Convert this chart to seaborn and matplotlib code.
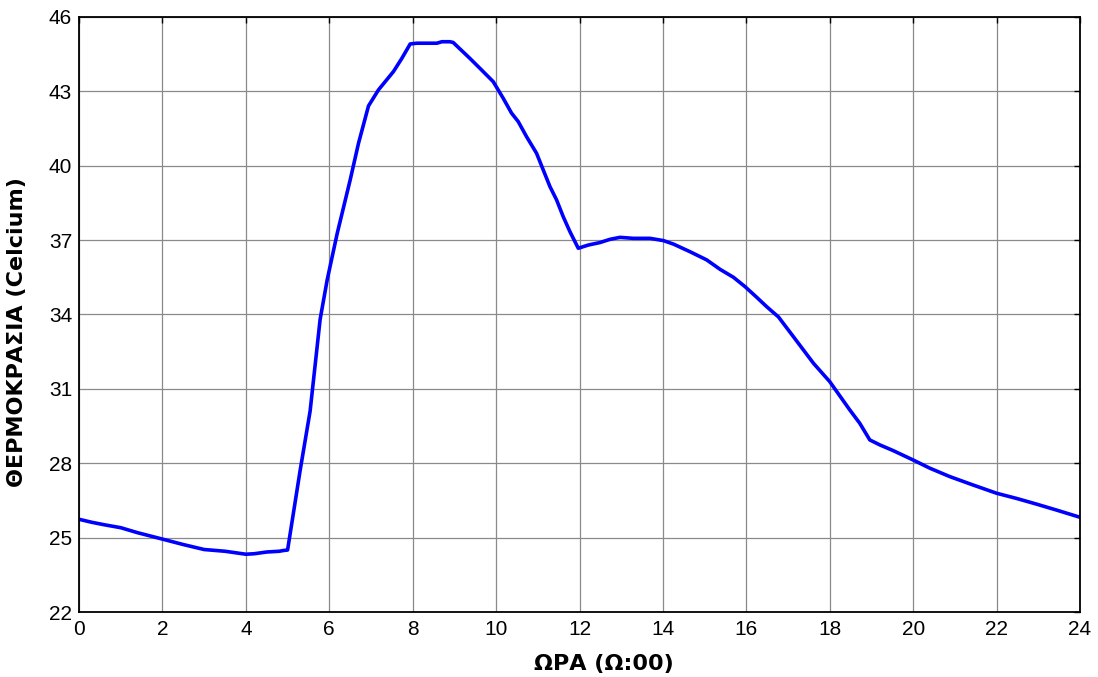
import numpy as np
import pandas as pd
import matplotlib
matplotlib.use("Agg")
import matplotlib.pyplot as plt
import seaborn as sns

# hour of day (0..24) and temperature
hours = [0.0, 0.3, 0.6, 1.0, 1.4, 2.0, 2.5, 3.0, 3.5, 4.0, 4.2, 4.5, 4.8, 4.9, 5.0,
         5.3, 5.54, 5.78, 5.95, 6.19, 6.5, 6.7, 6.94, 7.18, 7.54, 7.74, 7.94, 8.1,
         8.58, 8.7, 8.89, 8.97, 9.37, 9.61, 9.93, 10.17, 10.37, 10.53, 10.73, 10.97,
         11.29, 11.45, 11.61, 11.77, 11.97, 12.21, 12.49, 12.73, 12.97, 13.29, 13.69,
         14.01, 14.25, 14.65, 15.05, 15.37, 15.69, 15.97, 16.25, 16.49, 16.77, 17.13,
         17.61, 18.0, 18.48, 18.72, 18.96, 19.2, 19.52, 20.0, 20.4, 20.88, 21.44,
         22.0, 22.48, 22.96, 23.44, 24.0]
temps = [25.74, 25.62, 25.52, 25.4, 25.2, 24.94, 24.72, 24.52, 24.45, 24.33, 24.35,
         24.42, 24.45, 24.48, 24.5,
         27.7, 30.1, 33.8, 35.4, 37.27, 39.42, 40.9, 42.41, 43.06, 43.8, 44.33, 44.91,
         44.94, 44.94, 45.0, 45.0, 44.97, 44.33, 43.93, 43.39, 42.72, 42.12, 41.78,
         41.17, 40.5, 39.16, 38.62, 37.94, 37.34, 36.67, 36.8, 36.9, 37.03, 37.11,
         37.07, 37.07, 36.98, 36.84, 36.53, 36.2, 35.82, 35.5, 35.12, 34.69, 34.31,
         33.9, 33.1, 32.03, 31.29, 30.15, 29.61, 28.94, 28.74, 28.51, 28.13, 27.8,
         27.46, 27.12, 26.79, 26.58, 26.35, 26.11, 25.82]

x_ticks = list(range(0, 25, 2))
y_ticks = list(range(22, 47, 3))

df = pd.DataFrame({"hour": hours, "temp": temps})

sns.set_style("white")
plt.rcParams["font.family"] = ["Liberation Sans", "DejaVu Sans"]
plt.rcParams["text.color"] = "black"

fig = plt.figure(figsize=(10.98, 6.77), dpi=100)
ax = fig.add_axes([0.072, 0.096, 0.9116, 0.879])

sns.lineplot(data=df, x="hour", y="temp", color="#0000ff", linewidth=2.6, ax=ax)

ax.set_xlim(0, 24)
ax.set_ylim(22, 46)
ax.set_xticks(x_ticks)
ax.set_yticks(y_ticks)
ax.grid(True, color="#8a8a8a", linewidth=0.9)
ax.tick_params(direction="in", length=4, width=1, labelsize=15, colors="black",
               top=True, right=True)
ax.tick_params(axis="x", pad=6)
ax.tick_params(axis="y", pad=5)
for s in ax.spines.values():
    s.set_color("black")
    s.set_linewidth(1.3)

ax.set_xlabel("ΩΡΑ (Ω:00)", fontsize=16, fontweight="bold", color="black",
              family="DejaVu Sans")
ax.set_ylabel("ΘΕΡΜΟΚΡΑΣΙΑ (Celcium)", fontsize=16, fontweight="bold", color="black",
              family="DejaVu Sans")
ax.xaxis.set_label_coords(0.5245, -0.071)
ax.yaxis.set_label_coords(-0.052, 0.47)

fig.savefig("out.png", dpi=100)
